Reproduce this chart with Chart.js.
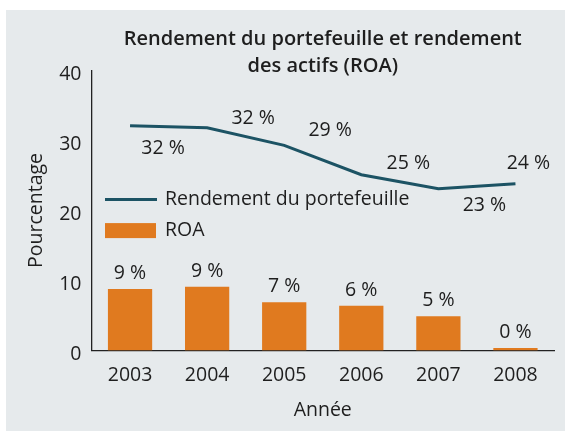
<!DOCTYPE html>
<html>
<head>
<meta charset="utf-8">
<script src="https://cdn.jsdelivr.net/npm/chart.js@4/dist/chart.umd.min.js"></script>
<style>
html, body { margin: 0; padding: 0; background: #fff; }
canvas { display: block; }
</style>
</head>
<body>
<canvas id="chart" width="565" height="431"></canvas>
<script>
/* data */
const years = ["2003", "2004", "2005", "2006", "2007", "2008"];
const portfolio = [32.1, 31.8, 29.3, 25.1, 23.1, 23.8];
const roa = [8.8, 9.1, 6.9, 6.4, 4.9, 0.36];
const portfolioLabels = ["32 %", "32 %", "29 %", "25 %", "23 %", "24 %"];
const roaLabels = ["9 %", "9 %", "7 %", "6 %", "5 %", "0 %"];
const yTicks = [0, 10, 20, 30, 40];

const FONT = "'Open Sans', Lato, sans-serif";
const TEXT = "#1e1e1e";
const LINE_COLOR = "#1c5364";
const BAR_COLOR = "#e07a1f";
const SIZE = 19.5;

/* where the line labels sit relative to their point */
const lineLabelOffsets = [[33, 23], [46, -9], [46, -15], [47, -11], [46, 17], [13, -20]];

/* panel background */
const panelPlugin = {
  id: "panel",
  beforeDraw(chart) {
    const ctx = chart.ctx;
    ctx.save();
    ctx.fillStyle = "#ffffff";
    ctx.fillRect(0, 0, chart.width, chart.height);
    ctx.fillStyle = "#e6eaec";
    ctx.fillRect(6, 10, chart.width - 6, chart.height - 10);
    ctx.restore();
  }
};

/* value labels + legend */
const labelPlugin = {
  id: "labels",
  afterDatasetsDraw(chart) {
    const ctx = chart.ctx;
    const area = chart.chartArea;
    ctx.save();
    ctx.font = SIZE + "px " + FONT;
    ctx.fillStyle = TEXT;
    ctx.textAlign = "center";
    ctx.textBaseline = "middle";

    chart.getDatasetMeta(1).data.forEach((bar, i) => {
      ctx.fillText(roaLabels[i], bar.x, bar.y - 15.5);
    });
    chart.getDatasetMeta(0).data.forEach((pt, i) => {
      const off = lineLabelOffsets[i];
      ctx.fillText(portfolioLabels[i], pt.x + off[0], pt.y + off[1]);
    });

    // legend
    const lx = area.left + 13.5;
    ctx.strokeStyle = LINE_COLOR;
    ctx.lineWidth = 3;
    ctx.beginPath();
    ctx.moveTo(lx, area.top + 129);
    ctx.lineTo(lx + 52, area.top + 129);
    ctx.stroke();
    ctx.fillStyle = BAR_COLOR;
    ctx.fillRect(lx, area.top + 152.7, 51, 15);
    ctx.fillStyle = TEXT;
    ctx.textAlign = "left";
    ctx.fillText("Rendement du portefeuille", lx + 60, area.top + 129);
    ctx.fillText("ROA", lx + 60, area.top + 160);
    ctx.restore();
  }
};

new Chart(document.getElementById("chart"), {
  data: {
    labels: years,
    datasets: [
      {
        type: "line",
        label: "Rendement du portefeuille",
        data: portfolio,
        borderColor: LINE_COLOR,
        borderWidth: 3,
        pointRadius: 0,
        tension: 0,
        order: 0
      },
      {
        type: "bar",
        label: "ROA",
        data: roa,
        backgroundColor: BAR_COLOR,
        categoryPercentage: 1,
        barPercentage: 0.574,
        order: 1
      }
    ]
  },
  options: {
    responsive: false,
    animation: false,
    layout: { padding: { left: 25, right: 11, top: 0, bottom: 0 } },
    plugins: {
      legend: { display: false },
      tooltip: { enabled: false },
      title: {
        display: true,
        fullSize: false,
        text: ["Rendement du portefeuille et rendement", "des actifs (ROA)"],
        color: TEXT,
        font: { family: FONT, size: 20, weight: "600", lineHeight: 1.36 },
        padding: { top: 25.5, bottom: -9.5 }
      }
    },
    scales: {
      x: {
        grid: { display: false, drawTicks: false },
        border: { display: true, color: "#222", width: 1.3 },
        ticks: { color: TEXT, font: { family: FONT, size: SIZE }, padding: 13, maxRotation: 0 },
        title: {
          display: true,
          text: "Année",
          color: TEXT,
          font: { family: FONT, size: SIZE },
          padding: { top: 0, bottom: 8.6 }
        },
        afterFit(scale) { scale.height = 80.5; }
      },
      y: {
        min: 0,
        max: 40,
        afterBuildTicks(scale) { scale.ticks = yTicks.map(v => ({ value: v })); },
        grid: { display: false, drawTicks: false },
        border: { display: true, color: "#222", width: 1.3 },
        ticks: { color: TEXT, font: { family: FONT, size: SIZE }, padding: 10, labelOffset: 4 },
        title: {
          display: true,
          text: "Pourcentage",
          color: TEXT,
          font: { family: FONT, size: SIZE },
          padding: 0
        },
        afterFit(scale) { scale.width = 66.5; }
      }
    }
  },
  plugins: [panelPlugin, labelPlugin]
});
</script>
</body>
</html>
